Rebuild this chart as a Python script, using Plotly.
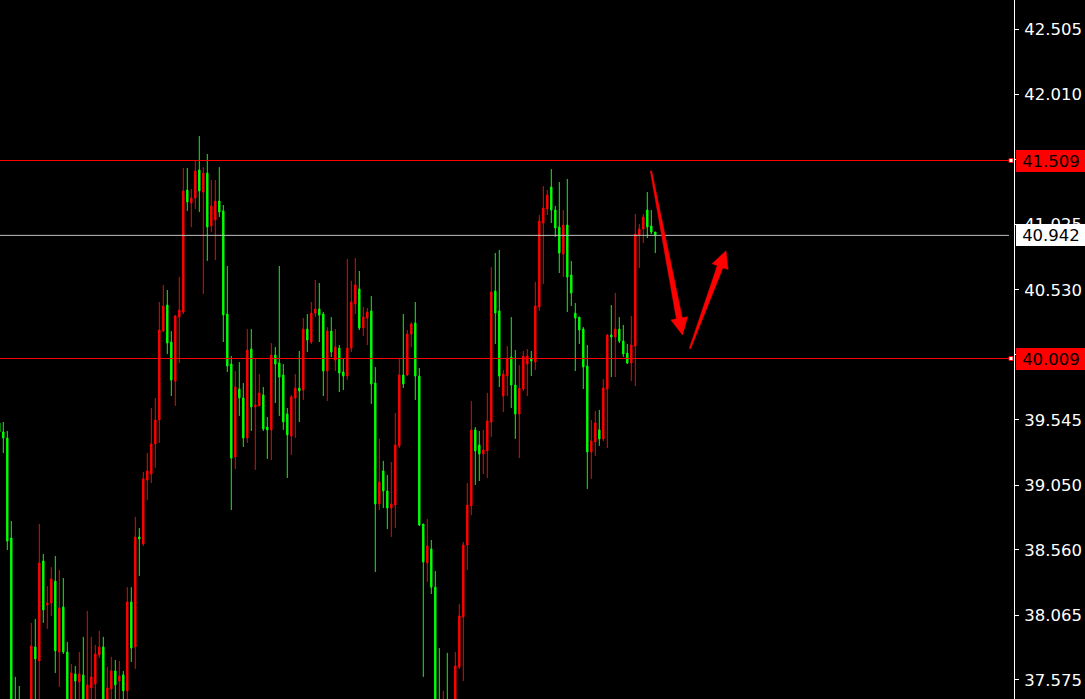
import numpy as np
import plotly.graph_objects as go

# ---------------- data ----------------
bars = list(range(-1, 164))

open_ = [39.521, 39.453, 39.407, 38.649, 37.340, 37.300, 37.260, 37.220, 37.330, 37.824,
         37.718, 38.475, 38.142, 38.157, 38.323, 37.786, 38.127, 37.786, 37.360, 37.619,
         37.559, 37.612, 37.380, 37.513, 37.544, 37.763, 37.824, 37.380, 37.506, 37.642,
         37.566, 37.612, 37.491, 38.165, 37.824, 38.657, 38.604, 39.089, 39.134, 39.362,
         39.543, 40.217, 40.414, 40.134, 39.838, 40.323, 40.361, 41.285, 41.187, 41.225,
         41.437, 41.270, 41.414, 41.013, 41.058, 41.202, 41.127, 40.346, 39.967, 39.263,
         39.778, 39.710, 39.407, 40.081, 39.642, 39.650, 39.733, 39.490, 39.468, 40.035,
         39.975, 39.884, 39.589, 39.422, 39.710, 39.785, 39.770, 40.232, 40.134, 40.353,
         40.384, 40.346, 39.914, 40.217, 39.997, 40.088, 39.907, 39.876, 40.088, 40.422,
         40.536, 40.240, 40.316, 40.369, 39.823, 38.907, 39.157, 39.005, 38.876, 38.899,
         39.347, 39.884, 39.884, 40.194, 40.278, 39.876, 38.755, 38.460, 38.566, 38.277,
         37.360, 37.280, 37.370, 37.300, 37.380, 37.672, 38.051, 38.596, 38.892, 39.468,
         39.354, 39.286, 39.309, 39.528, 40.520, 40.369, 39.725, 39.876, 40.020, 39.808,
         39.589, 39.778, 39.967, 40.013, 39.982, 40.399, 41.035, 41.142, 41.308, 41.134,
         41.005, 40.801, 41.020, 40.642, 40.353, 40.323, 40.232, 39.952, 39.301, 39.377,
         39.468, 39.400, 39.778, 40.187, 40.172, 40.232, 40.141, 40.050, 39.975, 40.103,
         40.944, 40.990, 41.134, 41.013, 40.967]

high = [39.543, 39.528, 39.460, 38.778, 37.597, 37.528, 37.380, 37.400, 38.006, 38.036,
        38.755, 38.528, 38.285, 38.429, 38.513, 38.407, 38.346, 37.862, 37.695, 37.680,
        37.786, 37.900, 38.097, 37.900, 37.839, 37.945, 37.900, 37.672, 37.748, 37.725,
        37.718, 37.642, 38.277, 38.277, 38.808, 38.725, 39.150, 39.293, 39.634, 39.710,
        40.437, 40.566, 40.528, 40.217, 40.338, 40.627, 41.452, 41.452, 41.293, 41.512,
        41.694, 41.459, 41.558, 41.361, 41.361, 41.459, 41.172, 40.710, 40.028, 39.914,
        39.982, 39.823, 40.232, 40.232, 40.005, 39.891, 39.793, 39.566, 40.126, 40.096,
        40.710, 39.967, 39.634, 39.733, 39.891, 40.066, 40.316, 40.346, 40.437, 40.604,
        40.581, 40.361, 40.247, 40.323, 40.232, 40.111, 40.005, 40.763, 40.598, 40.770,
        40.672, 40.399, 40.392, 40.482, 39.944, 39.400, 39.233, 39.127, 39.225, 39.596,
        40.013, 40.346, 40.225, 40.285, 40.437, 39.937, 38.755, 38.793, 38.634, 38.399,
        37.816, 37.491, 37.779, 37.400, 37.786, 38.150, 38.619, 39.066, 39.687, 39.490,
        39.460, 39.468, 39.748, 40.702, 40.808, 40.831, 39.922, 40.103, 40.323, 40.073,
        39.959, 40.066, 40.081, 40.066, 40.589, 41.096, 41.315, 41.285, 41.444, 41.165,
        41.346, 41.134, 41.369, 40.748, 40.429, 40.323, 40.247, 40.111, 39.543, 39.612,
        39.619, 39.853, 40.194, 40.414, 40.505, 40.323, 40.263, 40.119, 40.331, 41.104,
        41.028, 41.104, 41.270, 41.134, 40.967]

low = [39.437, 39.293, 38.558, 37.250, 37.240, 37.200, 37.180, 37.190, 37.300, 37.380,
       37.400, 38.006, 37.960, 38.059, 37.627, 37.521, 37.771, 37.300, 37.320, 37.380,
       37.400, 37.300, 37.340, 37.380, 37.390, 37.740, 37.320, 37.340, 37.390, 37.400,
       37.410, 37.400, 37.410, 37.710, 37.657, 38.361, 38.589, 38.937, 39.066, 39.180,
       39.369, 40.210, 40.043, 39.725, 39.650, 39.975, 40.346, 41.127, 41.005, 41.142,
       41.119, 40.498, 40.748, 40.967, 40.755, 41.081, 40.134, 39.907, 38.861, 39.172,
       39.574, 39.339, 39.369, 39.460, 39.165, 39.650, 39.460, 39.248, 39.240, 39.672,
       39.574, 39.468, 39.104, 39.278, 39.407, 39.528, 39.695, 40.058, 40.119, 40.323,
       40.134, 39.725, 39.687, 40.020, 39.914, 39.755, 39.770, 39.846, 40.058, 40.346,
       40.225, 40.179, 40.111, 39.665, 38.392, 38.861, 38.876, 38.717, 38.657, 38.725,
       39.331, 39.785, 39.876, 40.096, 39.695, 38.740, 37.597, 38.316, 38.225, 37.300,
       37.250, 37.230, 37.240, 37.250, 37.330, 37.657, 37.566, 38.407, 38.823, 39.051,
       39.081, 39.134, 39.104, 39.415, 40.119, 39.793, 39.604, 39.725, 39.634, 39.400,
       39.255, 39.763, 39.725, 39.876, 39.922, 40.369, 40.574, 41.096, 41.035, 40.930,
       40.657, 40.627, 40.361, 40.407, 39.914, 40.119, 39.778, 39.021, 39.097, 39.271,
       39.347, 39.384, 39.331, 39.868, 39.868, 40.126, 40.020, 39.967, 39.838, 39.800,
       40.695, 40.884, 40.922, 40.952, 40.808]

close = [39.453, 39.407, 38.626, 37.300, 37.280, 37.260, 37.220, 37.330, 37.832, 37.733,
         38.460, 38.104, 38.157, 38.339, 37.794, 38.119, 37.786, 37.350, 37.627, 37.566,
         37.619, 37.360, 37.536, 37.597, 37.771, 37.824, 37.360, 37.513, 37.642, 37.536,
         37.604, 37.491, 38.165, 37.816, 38.657, 38.642, 39.097, 39.157, 39.362, 39.543,
         40.225, 40.407, 40.126, 39.846, 40.331, 40.376, 41.278, 41.195, 41.225, 41.429,
         41.278, 41.414, 41.005, 41.165, 41.202, 41.119, 40.338, 39.952, 39.255, 39.793,
         39.710, 39.407, 40.073, 39.642, 39.657, 39.748, 39.475, 39.468, 40.035, 39.967,
         39.868, 39.528, 39.430, 39.718, 39.785, 39.763, 40.232, 40.149, 40.353, 40.384,
         40.338, 39.914, 40.217, 40.058, 40.096, 39.899, 39.876, 40.088, 40.437, 40.566,
         40.240, 40.323, 40.361, 39.816, 38.907, 39.074, 39.005, 38.876, 38.907, 39.354,
         39.884, 39.816, 40.194, 40.270, 39.876, 38.748, 38.467, 38.589, 38.277, 37.350,
         37.300, 37.360, 37.300, 37.380, 37.680, 38.059, 38.596, 38.899, 39.468, 39.309,
         39.286, 39.316, 39.536, 40.513, 40.353, 39.876, 39.891, 40.005, 39.808, 39.589,
         39.785, 40.028, 40.028, 39.990, 40.407, 41.050, 41.149, 41.247, 41.134, 40.998,
         40.808, 41.020, 40.627, 40.505, 40.316, 40.225, 39.944, 39.301, 39.384, 39.521,
         39.400, 39.785, 40.187, 40.172, 40.232, 40.141, 40.043, 39.975, 40.111, 40.952,
         40.990, 41.081, 41.005, 40.967, 40.942]

level_lines = [41.509, 40.009]
bid_price = 40.942
tick_vals = [42.505, 42.010, 41.515, 41.025, 40.530, 40.040, 39.545, 39.050, 38.560, 38.065, 37.575]
tick_text = [f"{v:.3f}" for v in tick_vals]

# ---------------- layout geometry ----------------
W, H = 1085, 699
MR = 71
PW = W - MR                    # plot width in px
X_RANGE = [-0.825, 252.675]    # 4 px per bar
Y_TOP = 42.725
Y_RANGE = [Y_TOP - H / 132.0, Y_TOP]

RED = "#ff0000"
GREEN = "#00ff00"
FONT = "DejaVu Sans"

fig = go.Figure()
fig.add_trace(go.Candlestick(
    x=bars, open=open_, high=high, low=low, close=close,
    increasing=dict(line=dict(color=RED, width=1), fillcolor=RED),
    decreasing=dict(line=dict(color=GREEN, width=1), fillcolor=GREEN),
    whiskerwidth=0, hoverinfo="skip", showlegend=False,
))

def ypaper(v):
    return (v - Y_RANGE[0]) / (Y_RANGE[1] - Y_RANGE[0])

shapes = []
end_frac = 1009.0 / PW
for lv in level_lines:
    shapes.append(dict(type="line", xref="paper", yref="y", x0=0, x1=end_frac, y0=lv, y1=lv,
                       line=dict(color=RED, width=1), layer="above"))
    yp = ypaper(lv)
    shapes.append(dict(type="rect", xref="paper", yref="paper",
                       x0=1009.0 / PW, x1=1013.0 / PW,
                       y0=yp - 2.0 / H, y1=yp + 2.0 / H,
                       fillcolor="#ffffff", line=dict(color=RED, width=1), layer="above"))
shapes.append(dict(type="line", xref="paper", yref="y", x0=0, x1=end_frac, y0=bid_price, y1=bid_price,
                   line=dict(color="#c0c0c0", width=1), layer="above"))


def arrow_path(tail, tip, head_len=17.0, head_half=8.5, w0=0.7, w1=3.0):
    T = np.array(tail, float)
    P = np.array(tip, float)
    d = (P - T) / np.linalg.norm(P - T)
    n = np.array([-d[1], d[0]])
    B = P - d * head_len
    pts = [T + n * w0, B + n * w1, B + n * head_half, P,
           B - n * head_half, B - n * w1, T - n * w0]
    conv = [(p[0] / PW, 1 - p[1] / H) for p in pts]
    return "M " + " L ".join(f"{a:.5f},{b:.5f}" for a, b in conv) + " Z"

for tail, tip in [((651, 171), (682.5, 335)), ((690, 348.5), (726, 250.7))]:
    shapes.append(dict(type="path", xref="paper", yref="paper", path=arrow_path(tail, tip),
                       fillcolor=RED, line=dict(color=RED, width=0.5), layer="above"))

annotations = []
for v, bg in [(level_lines[0], RED), (bid_price, "#ffffff"), (level_lines[1], RED)]:
    annotations.append(dict(
        xref="paper", x=1, xanchor="left", xshift=2,
        yref="y", y=v, yanchor="middle",
        text=f"{v:.3f}", showarrow=False, bgcolor=bg,
        borderwidth=0, borderpad=0, width=70, height=22, align="center",
        font=dict(color="#000000", size=16.5, family=FONT),
    ))

fig.update_layout(
    width=W, height=H, autosize=False,
    margin=dict(l=0, r=MR, t=0, b=0, pad=0),
    paper_bgcolor="#000000", plot_bgcolor="#000000",
    showlegend=False,
    boxgap=0.5,
    shapes=shapes, annotations=annotations,
    xaxis=dict(range=X_RANGE, visible=False, showgrid=False, zeroline=False,
               rangeslider=dict(visible=False), fixedrange=True),
    yaxis=dict(range=Y_RANGE, side="right", showgrid=False, zeroline=False,
               showline=True, linecolor="#ffffff", linewidth=1,
               ticks="outside", ticklen=4, tickcolor="#ffffff", tickwidth=1,
               ticklabelstandoff=2,
               tickvals=tick_vals, ticktext=tick_text,
               tickfont=dict(color="#ffffff", size=16.5, family=FONT),
               fixedrange=True),
)

fig.write_html("out.html", config={"displayModeBar": False},
               post_script="document.body.style.margin='0';document.body.style.background='#000';")
